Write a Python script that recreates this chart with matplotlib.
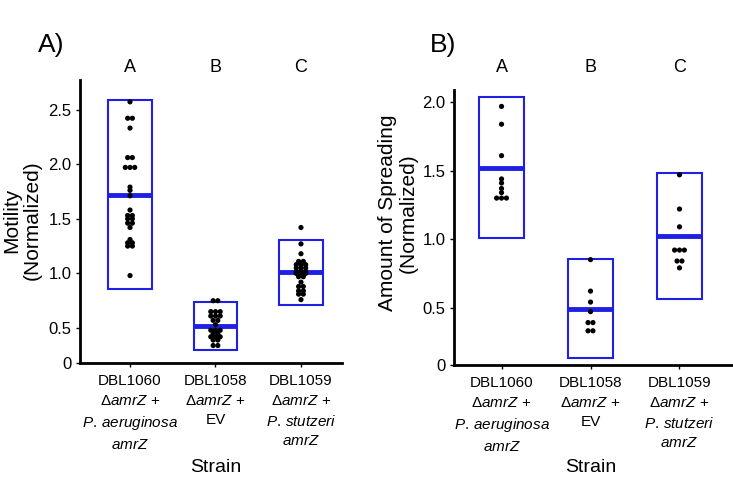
import numpy as np
import matplotlib
matplotlib.use('Agg')
import matplotlib.pyplot as plt
from matplotlib.patches import Rectangle
from matplotlib.transforms import blended_transform_factory

plt.rcParams['font.family'] = ['Liberation Sans', 'DejaVu Sans']
plt.rcParams['mathtext.fontset'] = 'custom'
plt.rcParams['mathtext.rm'] = 'Liberation Sans'
plt.rcParams['mathtext.it'] = 'Liberation Sans:italic'

# strains / labels
strains = ['DBL1060', 'DBL1058', 'DBL1059']
strain_labels = ['DBL1060\n$\\Delta\\mathit{amrZ}$ +\n$\\mathit{P.\\,aeruginosa}$\n$\\mathit{amrZ}$',
                 'DBL1058\n$\\Delta\\mathit{amrZ}$ +\nEV',
                 'DBL1059\n$\\Delta\\mathit{amrZ}$ +\n$\\mathit{P.\\,stutzeri}$\n$\\mathit{amrZ}$']
groups = ['A', 'B', 'C']

# panel A: motility (normalized)
mot_1060 = [2.57, 2.42, 2.42, 2.33, 2.06, 2.06, 1.97, 1.97, 1.97, 1.79, 1.76, 1.71,
            1.58, 1.53, 1.53, 1.50, 1.50, 1.46, 1.46, 1.42, 1.31, 1.28, 1.28,
            1.25, 1.25, 0.98]
mot_1058 = [0.75, 0.75, 0.65, 0.65, 0.65, 0.61, 0.61, 0.61, 0.57, 0.57, 0.53,
            0.48, 0.48, 0.48, 0.45, 0.45, 0.42, 0.42, 0.42, 0.39, 0.39, 0.34, 0.34]
mot_1059 = [1.42, 1.27, 1.18, 1.11, 1.11, 1.08, 1.08, 1.08, 1.05, 1.05, 1.05,
            1.02, 1.02, 1.02, 1.00, 1.00, 1.00, 0.97, 0.97, 0.92, 0.88, 0.88,
            0.84, 0.84, 0.81, 0.81, 0.76]
mot_lo = [0.86, 0.30, 0.71]
mot_hi = [2.59, 0.74, 1.31]
mot_mid = [1.72, 0.52, 1.01]

# panel B: amount of spreading (normalized)
spr_1060 = [1.97, 1.84, 1.61, 1.44, 1.41, 1.37, 1.34, 1.30, 1.30, 1.30]
spr_1058 = [0.85, 0.62, 0.54, 0.47, 0.39, 0.39, 0.33, 0.33]
spr_1059 = [1.47, 1.22, 1.09, 0.92, 0.92, 0.92, 0.84, 0.84, 0.79]
spr_lo = [1.01, 0.13, 0.56]
spr_hi = [2.04, 0.855, 1.48]
spr_mid = [1.52, 0.49, 1.02]

BLUE = '#1f1fe6'


def swarm_x(vals, x0, dx):
    # spread identical values side by side
    vals = np.array(vals)
    xs = np.zeros(len(vals))
    for v in np.unique(vals):
        idx = np.where(vals == v)[0]
        n = len(idx)
        xs[idx] = x0 + (np.arange(n) - (n - 1) / 2.) * dx
    return xs


def panel(ax, data, lo, hi, mid, ylim, yticks, yticklabels, xlim):
    for i, vals in enumerate(data):
        x = i + 1
        w = 0.51
        ax.add_patch(Rectangle((x - w / 2, lo[i]), w, hi[i] - lo[i], fill=False,
                               edgecolor=BLUE, lw=1.5, zorder=2))
        ax.plot([x - w / 2, x + w / 2], [mid[i], mid[i]], color=BLUE, lw=3.5,
                solid_capstyle='butt', zorder=3)
        ax.scatter(swarm_x(vals, x, 0.055), vals, s=14, color='black', zorder=4,
                   edgecolors='none')
    ax.set_xlim(xlim)
    ax.set_ylim(ylim)
    ax.set_yticks(yticks)
    ax.set_yticklabels(yticklabels, fontsize=12)
    ax.set_xticks([1, 2, 3])
    ax.set_xticklabels(strain_labels, fontsize=11, linespacing=1.5)
    ax.spines['top'].set_visible(False)
    ax.spines['right'].set_visible(False)
    ax.spines['left'].set_linewidth(2)
    ax.spines['bottom'].set_linewidth(2)
    ax.tick_params(length=3, width=1, pad=3)
    ax.tick_params(axis='x', pad=5)
    tr = blended_transform_factory(ax.transData, fig.transFigure)
    for i, g in enumerate(groups):
        ax.text(i + 1, 1 - 68 / 484., g, transform=tr, ha='center', va='center',
                fontsize=13)
    ax.text(2, 1 - 468 / 484., 'Strain', transform=tr, ha='center', va='center',
            fontsize=14)


fig = plt.figure(figsize=(7.33, 4.84), dpi=100)

axA = fig.add_axes([80 / 733., 1 - 363 / 484., 262 / 733., 283 / 484.])
panel(axA, [mot_1060, mot_1058, mot_1059], mot_lo, mot_hi, mot_mid,
      (0.18, 2.77), [0.18, 0.5, 1.0, 1.5, 2.0, 2.5], ['0', '0.5', '1.0', '1.5', '2.0', '2.5'],
      (0.415, 3.48))

axB = fig.add_axes([454 / 733., 1 - 365 / 484., 278 / 733., 275 / 484.])
panel(axB, [spr_1060, spr_1058, spr_1059], spr_lo, spr_hi, spr_mid,
      (0.08, 2.09), [0.08, 0.5, 1.0, 1.5, 2.0], ['0', '0.5', '1.0', '1.5', '2.0'],
      (0.466, 3.59))

fig.text(22 / 733., 1 - 220 / 484., 'Motility\n(Normalized)', rotation=90, fontsize=15,
         ha='center', va='center', multialignment='center', linespacing=1.15)
fig.text(398 / 733., 1 - 213 / 484., 'Amount of Spreading\n(Normalized)', rotation=90,
         fontsize=15, ha='center', va='center', multialignment='center', linespacing=1.15)

fig.text(38 / 733., 1 - 45 / 484., 'A)', fontsize=19, va='center', ha='left')
fig.text(430 / 733., 1 - 45 / 484., 'B)', fontsize=19, va='center', ha='left')

fig.savefig('out.png', dpi=100)
